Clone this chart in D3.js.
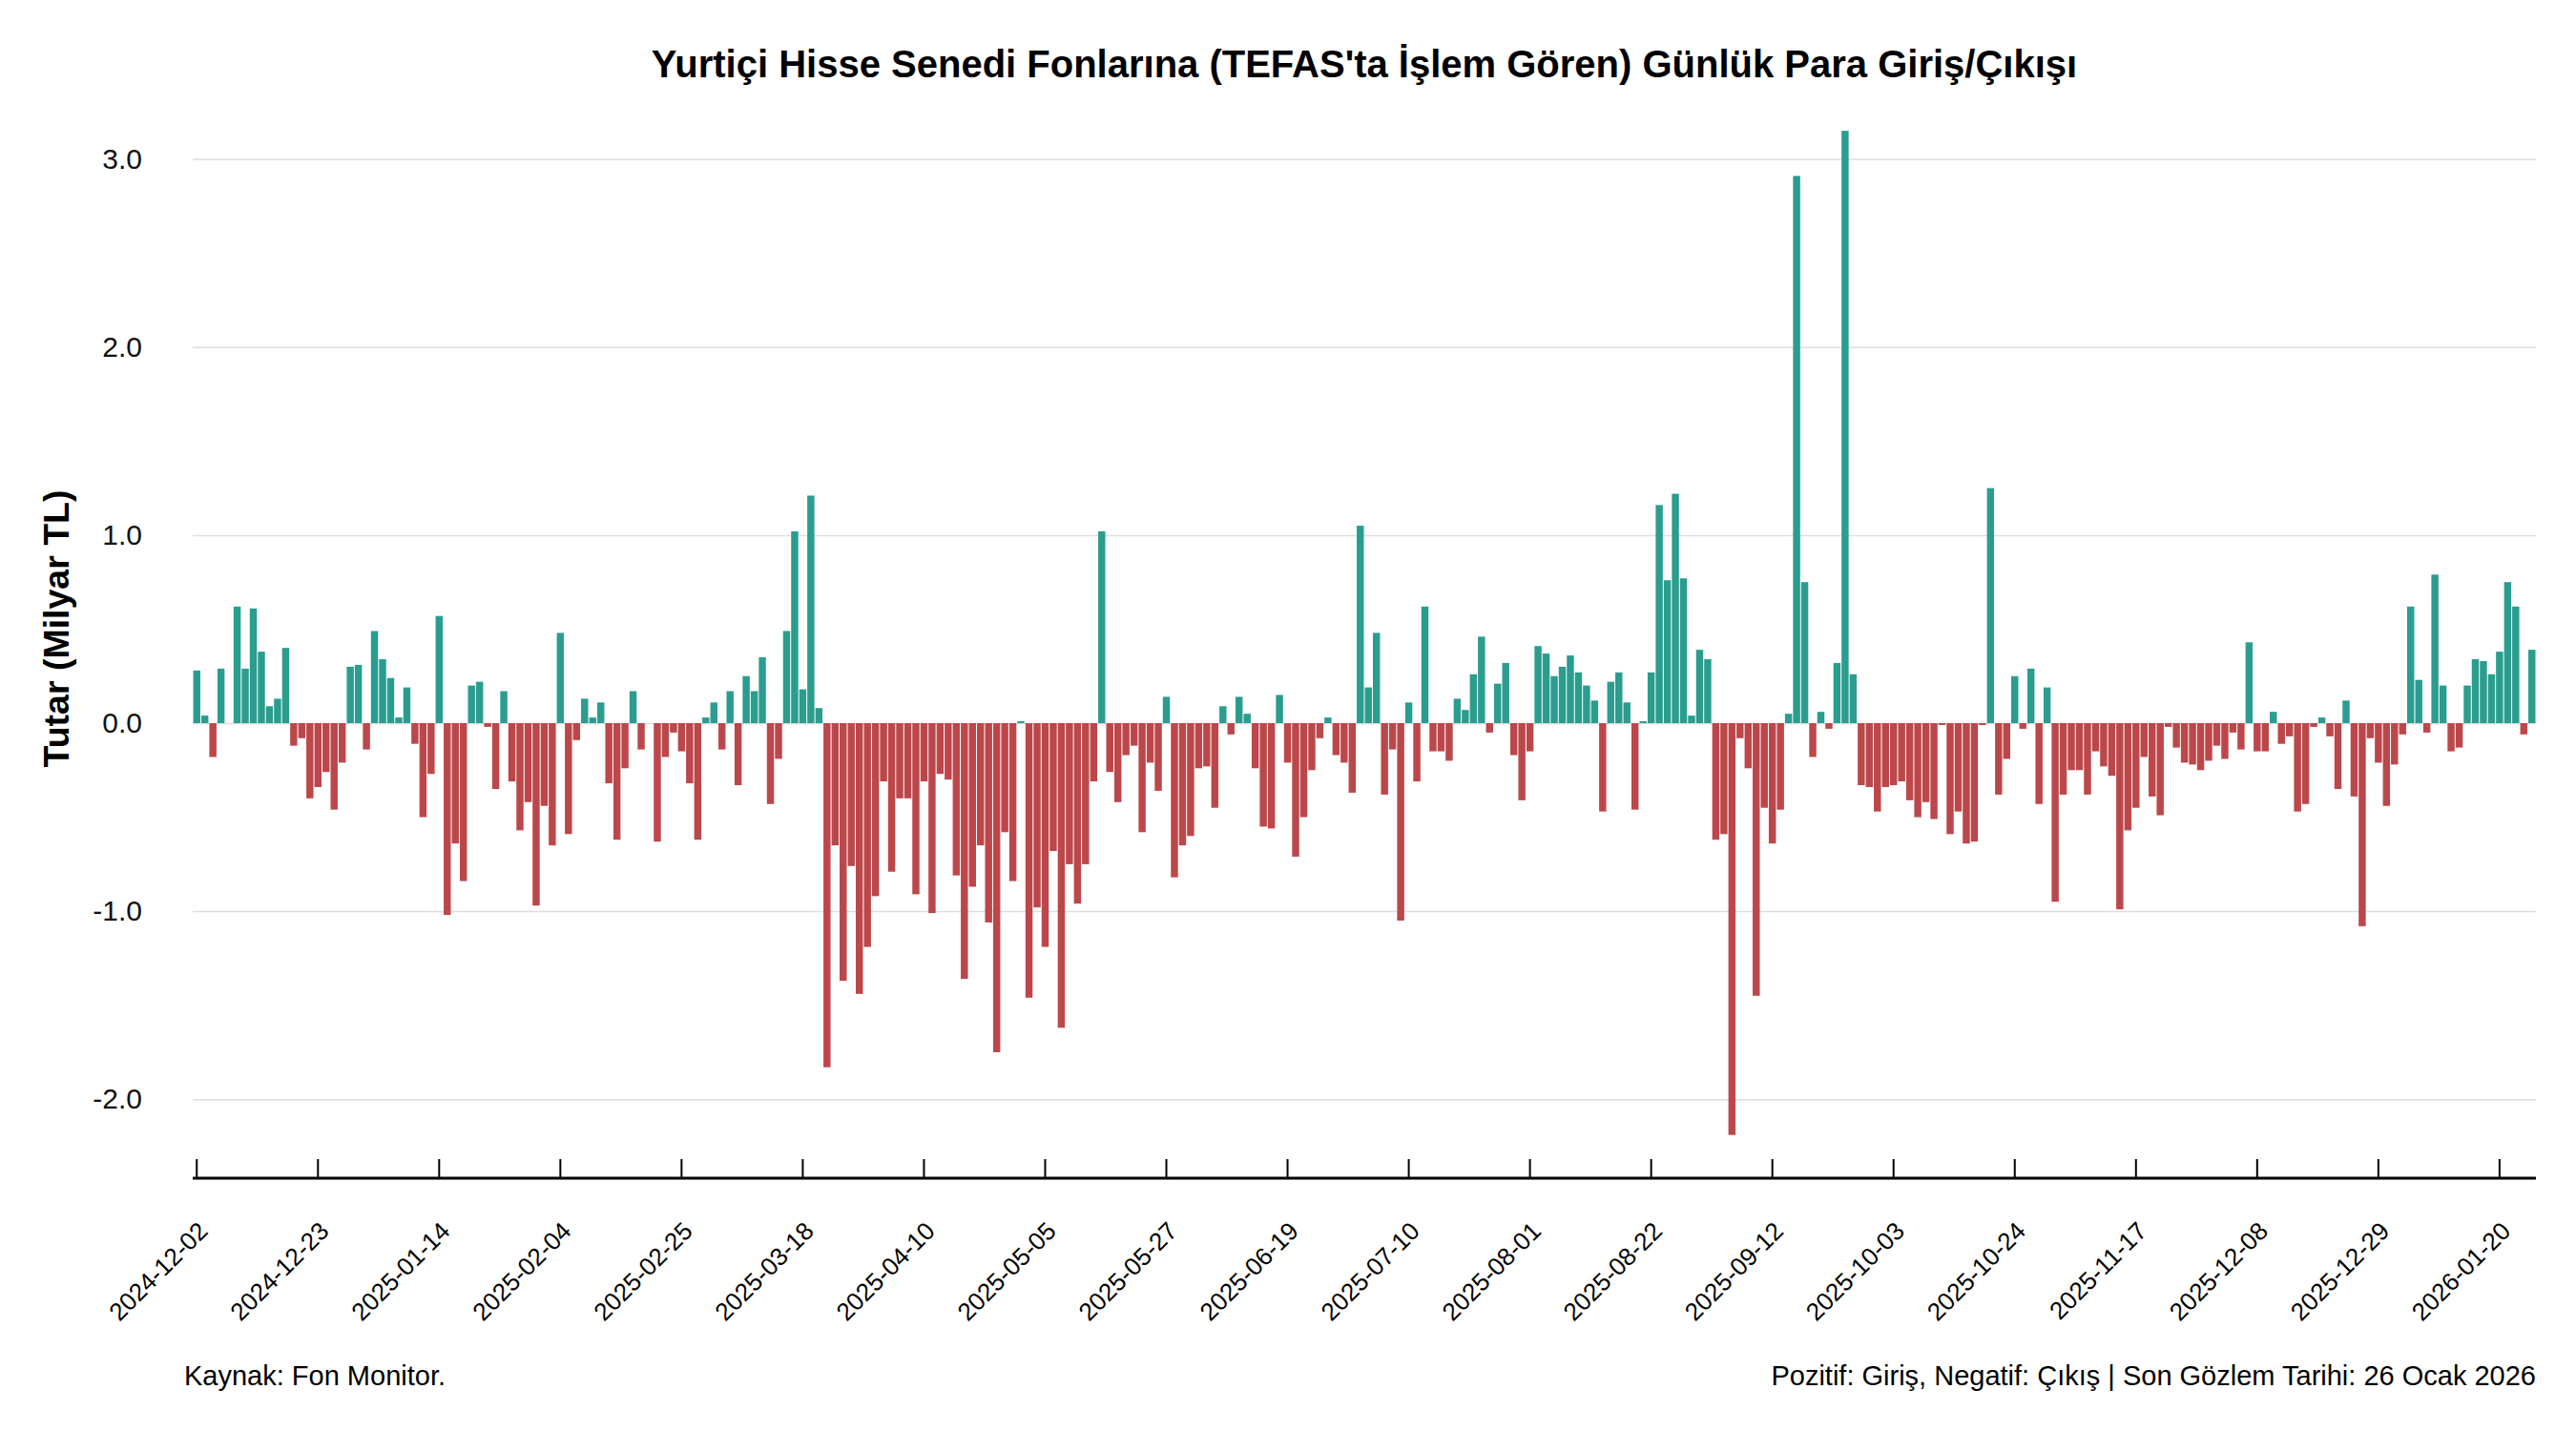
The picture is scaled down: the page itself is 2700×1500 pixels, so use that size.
<!DOCTYPE html>
<html lang="tr">
<head>
<meta charset="UTF-8">
<title>Günlük Para Giriş/Çıkışı</title>
<script src="https://d3js.org/d3.v7.min.js"></script>
<style>
  body { margin: 0; background: #fff; }
  svg { font-family: "Liberation Sans", Arial, sans-serif; }
</style>
</head>
<body>
<script>
// daily net flow, billion TL, one value per trading day from 2024-12-02 to 2026-01-26
const flows = [
   0.28,  0.04, -0.18,  0.29,  0.00,  0.62,  0.29,  0.61,  0.38,  0.09,
   0.13,  0.40, -0.12, -0.08, -0.40, -0.34, -0.26, -0.46, -0.21,  0.30,
   0.31, -0.14,  0.49,  0.34,  0.24,  0.03,  0.19, -0.11, -0.50, -0.27,
   0.57, -1.02, -0.64, -0.84,  0.20,  0.22, -0.02, -0.35,  0.17, -0.31,
  -0.57, -0.42, -0.97, -0.44, -0.65,  0.48, -0.59, -0.09,  0.13,  0.03,
   0.11, -0.32, -0.62, -0.24,  0.17, -0.14,  0.00, -0.63, -0.18, -0.05,
  -0.15, -0.32, -0.62,  0.03,  0.11, -0.14,  0.17, -0.33,  0.25,  0.17,
   0.35, -0.43, -0.19,  0.49,  1.02,  0.18,  1.21,  0.08, -1.83, -0.65,
  -1.37, -0.76, -1.44, -1.19, -0.92, -0.31, -0.79, -0.40, -0.40, -0.91,
  -0.31, -1.01, -0.27, -0.30, -0.81, -1.36, -0.87, -0.65, -1.06, -1.75,
  -0.58, -0.84,  0.01, -1.46, -0.98, -1.19, -0.68, -1.62, -0.75, -0.96,
  -0.75, -0.31,  1.02, -0.26, -0.42, -0.17, -0.12, -0.58, -0.21, -0.36,
   0.14, -0.82, -0.65, -0.60, -0.24, -0.23, -0.45,  0.09, -0.06,  0.14,
   0.05, -0.24, -0.55, -0.56,  0.15, -0.21, -0.71, -0.50, -0.25, -0.08,
   0.03, -0.17, -0.21, -0.37,  1.05,  0.19,  0.48, -0.38, -0.14, -1.05,
   0.11, -0.31,  0.62, -0.15, -0.15, -0.20,  0.13,  0.07,  0.26,  0.46,
  -0.05,  0.21,  0.32, -0.17, -0.41, -0.15,  0.41,  0.37,  0.25,  0.30,
   0.36,  0.27,  0.20,  0.12, -0.47,  0.22,  0.27,  0.11, -0.46,  0.01,
   0.27,  1.16,  0.76,  1.22,  0.77,  0.04,  0.39,  0.34, -0.62, -0.59,
  -2.19, -0.08, -0.24, -1.45, -0.45, -0.64, -0.46,  0.05,  2.91,  0.75,
  -0.18,  0.06, -0.03,  0.32,  3.15,  0.26, -0.33, -0.34, -0.47, -0.34,
  -0.33, -0.31, -0.41, -0.50, -0.42, -0.51, -0.01, -0.59, -0.47, -0.64,
  -0.63, -0.01,  1.25, -0.38, -0.19,  0.25, -0.03,  0.29, -0.43,  0.19,
  -0.95, -0.38, -0.25, -0.25, -0.38, -0.15, -0.23, -0.28, -0.99, -0.57,
  -0.45, -0.18, -0.39, -0.49, -0.02, -0.13, -0.21, -0.22, -0.25, -0.20,
  -0.12, -0.19, -0.05, -0.14,  0.43, -0.15, -0.15,  0.06, -0.11, -0.07,
  -0.47, -0.43, -0.02,  0.03, -0.07, -0.35,  0.12, -0.39, -1.08, -0.08,
  -0.21, -0.44, -0.22, -0.06,  0.62,  0.23, -0.05,  0.79,  0.20, -0.15,
  -0.13,  0.20,  0.34,  0.33,  0.26,  0.38,  0.75,  0.62, -0.06,  0.39
];

// a date label every 15 trading days
const tickEvery = 15;
const tickLabels = [
  "2024-12-02", "2024-12-23", "2025-01-14", "2025-02-04", "2025-02-25",
  "2025-03-18", "2025-04-10", "2025-05-05", "2025-05-27", "2025-06-19",
  "2025-07-10", "2025-08-01", "2025-08-22", "2025-09-12", "2025-10-03",
  "2025-10-24", "2025-11-17", "2025-12-08", "2025-12-29", "2026-01-20"
];
const yTicks = [-2, -1, 0, 1, 2, 3];

const days = d3.range(flows.length);

const w = 2700;
const h = 1500;
const plotLeft = 202, plotRight = 2658, plotTop = 105.6, plotBottom = 1235;

const svg = d3.select("body").append("svg")
    .attr("width", w)
    .attr("height", h);

const x = d3.scaleBand()
    .domain(days)
    .range([plotLeft, plotRight])
    .paddingInner(0.12)
    .paddingOuter(0.06);

const y = d3.scaleLinear()
    .domain([-2.42, 3.31])
    .range([plotBottom, plotTop]);

// grid + y labels
const yAxis = svg.append("g")
    .attr("transform", "translate(" + plotLeft + ",0)")
    .call(d3.axisLeft(y).tickValues(yTicks).tickSize(-(plotRight - plotLeft)).tickPadding(53)
        .tickFormat(d => d3.format(".1f")(d).replace("−", "-")));
yAxis.select(".domain").remove();
yAxis.selectAll(".tick line").attr("stroke", "#dedede").attr("stroke-width", 1.5);
yAxis.selectAll(".tick text")
    .attr("font-size", 30)
    .attr("fill", "#111");

// bars
svg.append("g").selectAll("rect")
    .data(flows)
    .enter()
    .append("rect")
    .attr("x", (d, i) => x(days[i]))
    .attr("width", x.bandwidth())
    .attr("y", d => y(Math.max(0, d)))
    .attr("height", d => Math.abs(y(d) - y(0)))
    .attr("fill", d => d >= 0 ? "#2a9d8f" : "#bc474a");

// x axis
const xAxis = svg.append("g")
    .attr("transform", "translate(0," + plotBottom + ")")
    .call(d3.axisBottom(x)
        .tickValues(days.filter(i => i % tickEvery === 0))
        .tickSize(-20)
        .tickSizeOuter(0)
        .tickFormat(i => tickLabels[i / tickEvery]));
xAxis.select(".domain").attr("stroke", "#000").attr("stroke-width", 3)
    .attr("d", "M" + plotLeft + ",0H" + plotRight);
xAxis.selectAll(".tick line").attr("stroke", "#000").attr("stroke-width", 2);
xAxis.selectAll(".tick text")
    .attr("font-size", 26)
    .attr("fill", "#000")
    .attr("text-anchor", "end")
    .attr("y", 0)
    .attr("dy", 0)
    .attr("transform", "translate(13,57) rotate(-45)");

// title
svg.append("text")
    .attr("x", (plotLeft + plotRight) / 2)
    .attr("y", 81)
    .attr("text-anchor", "middle")
    .attr("font-size", 40)
    .attr("font-weight", "bold")
    .text("Yurtiçi Hisse Senedi Fonlarına (TEFAS'ta İşlem Gören) Günlük Para Giriş/Çıkışı");

// y title
svg.append("text")
    .attr("transform", "translate(59," + 659 + ") rotate(-90)")
    .attr("dy", "0.35em")
    .attr("text-anchor", "middle")
    .attr("font-size", 37.5)
    .attr("font-weight", "bold")
    .text("Tutar (Milyar TL)");

// footer
svg.append("text")
    .attr("x", 193)
    .attr("y", 1452)
    .attr("font-size", 29)
    .text("Kaynak: Fon Monitor.");

svg.append("text")
    .attr("x", plotRight)
    .attr("y", 1452)
    .attr("text-anchor", "end")
    .attr("font-size", 29)
    .text("Pozitif: Giriş, Negatif: Çıkış | Son Gözlem Tarihi: 26 Ocak 2026");
</script>
</body>
</html>
